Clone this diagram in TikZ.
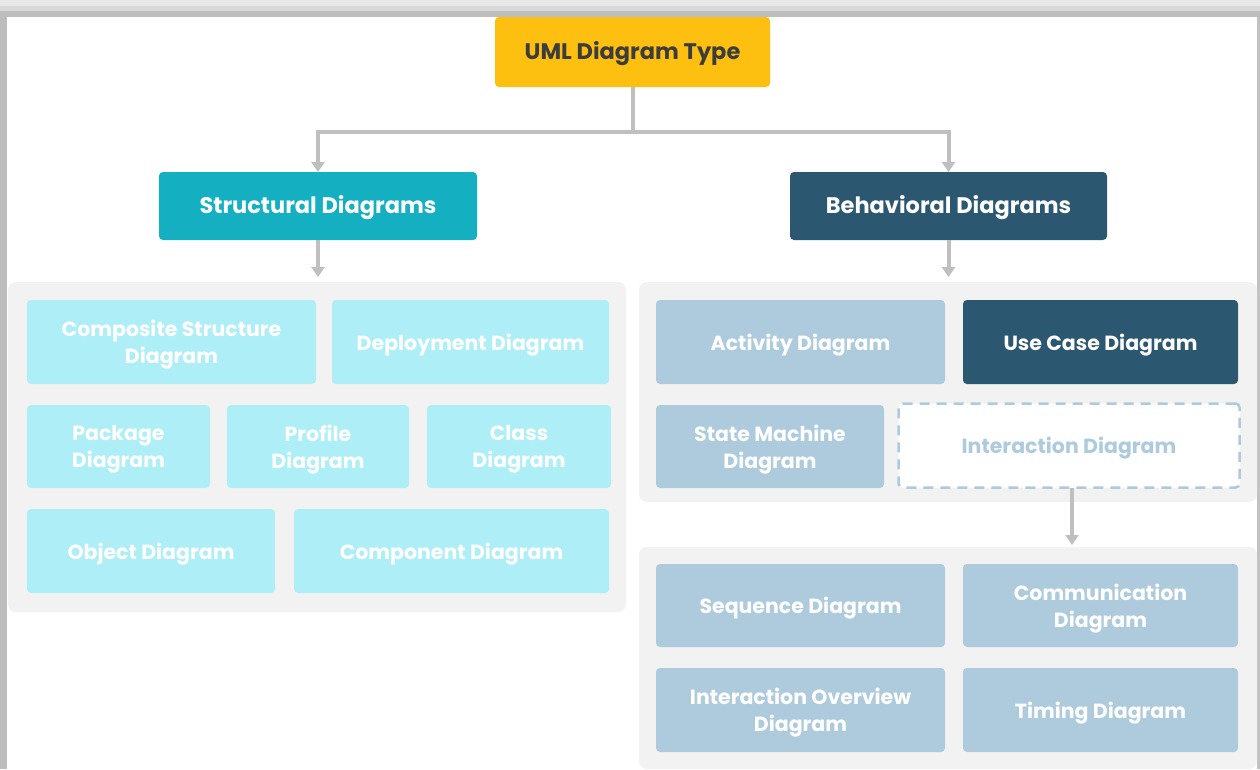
\documentclass[tikz,border=0pt]{standalone}
\usepackage{fontspec}
\setmainfont{Poppins}
\usetikzlibrary{arrows.meta,calc}
\definecolor{cYellow}{HTML}{FDC010}
\definecolor{cTeal}{HTML}{14AFC1}
\definecolor{cNavy}{HTML}{2B5770}
\definecolor{cCyan}{HTML}{AEEEF7}
\definecolor{cBlue}{HTML}{ADCBDC}
\definecolor{cPanel}{HTML}{F2F2F2}
\definecolor{cLine}{HTML}{BFBFBF}
\definecolor{cDark}{HTML}{3C3C3C}
\tikzset{
  lbl/.style={inner sep=0pt, align=center, yshift=-3pt, text=white, font=\fontsize{20.5}{27}\selectfont\bfseries},
  box/.style={rectangle, rounded corners=4pt, inner sep=0pt, outer sep=0pt, label={[lbl]center:#1}},
  title/.style={rectangle, rounded corners=4pt, inner sep=0pt, outer sep=0pt, label={[lbl, font=\fontsize{22.5}{27}\selectfont\bfseries, yshift=1pt]center:#1}},
  cyanbox/.style={box={#1}, fill=cCyan},
  bluebox/.style={box={#1}, fill=cBlue},
  panel/.style={rectangle, rounded corners=8pt, fill=cPanel, inner sep=0pt, outer sep=0pt},
  conn/.style={draw=cLine, line width=4pt, -{Triangle[width=13pt,length=10pt]}},
}
\begin{document}
\begin{tikzpicture}[x=1pt,y=-1pt]
\useasboundingbox (0,0) rectangle (1260,769);
\fill[white] (0,0) rectangle (1260,769);
% frame shadow
\fill[black!9] (0,0) rectangle (1260,6);
\fill[black!15] (0,6) rectangle (1260,11);
\fill[black!26] (0,11) rectangle (1260,17);
\fill[black!26] (0,17) rectangle (7,769);
\fill[black!24] (1257,17) rectangle (1260,769);
% panels
\node[panel, minimum width=618pt, minimum height=330pt] (lp) at (317,447) {};
\node[panel, minimum width=618pt, minimum height=220pt] (rp1) at (948,392) {};
\node[panel, minimum width=618pt, minimum height=222pt] (rp2) at (948,658) {};
% top level
\node[title={\textcolor{cDark}{UML Diagram Type}}, fill=cYellow, minimum width=275pt, minimum height=70pt] (top) at (632.5,52) {};
\node[title={Structural Diagrams}, fill=cTeal, minimum width=318pt, minimum height=68pt] (struct) at (318,206) {};
\node[title={Behavioral Diagrams}, fill=cNavy, minimum width=317pt, minimum height=68pt] (behav) at (948.5,206) {};
% structural
\node[cyanbox={Composite Structure\\Diagram}, minimum width=289pt, minimum height=84pt] (comp) at (171.5,342) {};
\node[cyanbox={Deployment Diagram}, minimum width=277pt, minimum height=84pt] (deploy) at (470.5,342) {};
\node[cyanbox={Package\\Diagram}, minimum width=183pt, minimum height=83pt] (package) at (118.5,446.5) {};
\node[cyanbox={Profile\\Diagram}, minimum width=182pt, minimum height=83pt] (profile) at (318,446.5) {};
\node[cyanbox={Class\\Diagram}, minimum width=184pt, minimum height=83pt] (class) at (519,446.5) {};
\node[cyanbox={Object Diagram}, minimum width=248pt, minimum height=84pt] (object) at (151,551) {};
\node[cyanbox={Component Diagram}, minimum width=315pt, minimum height=84pt] (component) at (451.5,551) {};
% behavioral
\node[bluebox={Activity Diagram}, minimum width=289pt, minimum height=84pt] (activity) at (800.5,342) {};
\node[box={Use Case Diagram}, fill=cNavy, minimum width=275pt, minimum height=84pt] (usecase) at (1100.5,342) {};
\node[bluebox={State Machine\\Diagram}, minimum width=228pt, minimum height=83pt] (state) at (770,446.5) {};
\node[box={\textcolor{cBlue}{Interaction Diagram}}, fill=white, draw=cBlue, line width=2.5pt, dash pattern=on 10pt off 7pt, minimum width=341pt, minimum height=84pt] (interaction) at (1069,445.5) {};
% interaction sub
\node[bluebox={Sequence Diagram}, minimum width=289pt, minimum height=83pt] (sequence) at (800.5,605.5) {};
\node[bluebox={Communication\\Diagram}, minimum width=275pt, minimum height=83pt] (communication) at (1100.5,605.5) {};
\node[bluebox={Interaction Overview\\Diagram}, minimum width=289pt, minimum height=84pt] (overview) at (800.5,710) {};
\node[bluebox={Timing Diagram}, minimum width=275pt, minimum height=84pt] (timing) at (1100.5,710) {};
% connectors
\draw[conn] (top.south) -- ++(0,45) -| (struct.north);
\draw[conn] (top.south) -- ++(0,45) -| (behav.north);
\draw[conn, shorten >=5pt] (struct.south) -- (struct.south |- lp.north);
\draw[conn, shorten >=5pt] (behav.south) -- (behav.south |- rp1.north);
\draw[conn, shorten >=2pt] ([xshift=3pt]interaction.south) -- ([xshift=3pt]interaction.south |- rp2.north);
\end{tikzpicture}
\end{document}
